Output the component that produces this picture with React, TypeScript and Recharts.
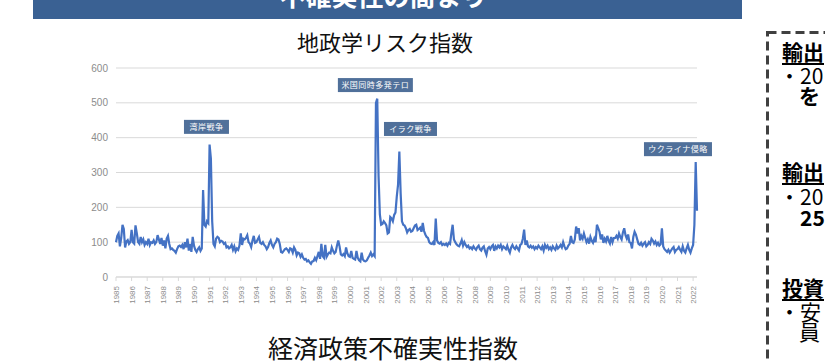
import { CartesianGrid, Line, LineChart, ReferenceDot, XAxis, YAxis } from "recharts";

// monthly geopolitical risk index (Jan 1985 - Apr 2022)
const gpr1985to1989 = [
  100, 118, 125, 88, 112, 150, 138, 85, 102, 106, 95, 100,
  135, 100, 96, 148, 126, 100, 95, 115, 100, 108, 92, 100,
  95, 110, 92, 100, 98, 105, 95, 100, 120, 108, 95, 112,
  90, 105, 82, 110, 118, 95, 80, 82, 78, 75, 70, 80,
  88, 90, 86, 92, 80, 100, 85, 110, 76, 95, 72, 115,
];
const gpr1990to1994 = [
  90, 78, 72, 80, 85, 75, 82, 250, 150, 145, 160, 155,
  380, 340, 160, 95, 88, 110, 115, 112, 100, 104, 102, 95,
  98, 85, 88, 82, 85, 92, 78, 88, 74, 82, 78, 90,
  125, 92, 110, 108, 112, 120, 100, 96, 86, 105, 118, 98,
  100, 108, 115, 98, 95, 100, 92, 88, 80, 86, 98, 105,
];
const gpr1995to1999 = [
  92, 85, 95, 100, 110, 108, 95, 72, 70, 75, 80, 82,
  78, 72, 82, 80, 70, 85, 78, 62, 70, 68, 58, 65,
  55, 50, 52, 45, 48, 42, 38, 45, 46, 55, 48, 60,
  72, 52, 95, 60, 55, 92, 58, 65, 70, 68, 85, 75,
  68, 72, 90, 105, 88, 65, 62, 66, 60, 85, 68, 60,
];
const gpr2000to2004 = [
  58, 75, 55, 52, 50, 75, 55, 48, 45, 70, 50, 46,
  45, 48, 55, 62, 70, 60, 65, 60, 500, 512, 290, 180,
  150, 152, 160, 155, 148, 125, 128, 172, 168, 160, 178, 185,
  230, 265, 360, 240, 160, 150, 148, 140, 128, 135, 138, 130,
  132, 140, 148, 150, 135, 138, 142, 130, 155, 132, 122, 115,
];
const gpr2005to2009 = [
  112, 100, 96, 95, 100, 92, 168, 105, 98, 96, 100, 92,
  95, 92, 96, 90, 98, 95, 125, 150, 108, 100, 94, 90,
  88, 96, 106, 90, 100, 92, 86, 90, 82, 85, 80, 88,
  82, 78, 86, 90, 80, 76, 84, 88, 74, 64, 82, 86,
  80, 88, 92, 75, 88, 82, 90, 85, 92, 80, 88, 84,
];
const gpr2010to2014 = [
  80, 90, 78, 70, 85, 92, 84, 80, 88, 82, 76, 92,
  95, 110, 136, 92, 105, 88, 85, 90, 84, 88, 80, 86,
  82, 90, 85, 80, 88, 76, 92, 84, 90, 80, 85, 78,
  88, 82, 78, 90, 82, 86, 92, 85, 100, 88, 80, 82,
  90, 95, 118, 100, 98, 108, 145, 125, 140, 105, 118, 110,
];
const gpr2015to2019 = [
  125, 112, 100, 108, 96, 115, 104, 98, 110, 100, 150, 140,
  130, 108, 122, 98, 110, 102, 118, 104, 96, 115, 100, 112,
  112, 118, 110, 125, 115, 108, 128, 140, 120, 110, 122, 100,
  98, 82, 115, 130, 122, 108, 95, 92, 98, 90, 96, 100,
  88, 92, 100, 95, 110, 105, 96, 102, 92, 98, 90, 94,
];
const gpr2020to2022 = [
  140, 88, 80, 76, 72, 78, 70, 76, 82, 86, 72, 78,
  80, 86, 78, 72, 88, 75, 70, 82, 92, 78, 70, 82,
  92, 150, 330, 190,
];

const yearTicks = Array.from({ length: 38 }, (_, i) => 1985 + i);
const valueTicks = [0, 100, 200, 300, 400, 500, 600];

const events = [
  { label: "湾岸戦争", t: 1990.8, v: 431, w: 45 },
  { label: "米国同時多発テロ", t: 2001.63, v: 551, w: 75 },
  { label: "イラク戦争", t: 2003.88, v: 425, w: 53 },
  { label: "ウクライナ侵略", t: 2021.03, v: 367, w: 68 },
];

const gpr = [
  ...gpr1985to1989,
  ...gpr1990to1994,
  ...gpr1995to1999,
  ...gpr2000to2004,
  ...gpr2005to2009,
  ...gpr2010to2014,
  ...gpr2015to2019,
  ...gpr2020to2022,
];
const data = gpr.map((v, i) => ({ t: 1985 + i / 12, gpr: v }));

const jp = '"Noto Sans CJK JP", "Noto Sans", sans-serif';

const YearTick = ({ x, y, payload }: any) => (
  <text
    transform={`translate(${x + 3},${y + 3}) rotate(-90)`}
    textAnchor="end"
    fontSize={8}
    fill="#8c8c8c"
    fontFamily="Liberation Sans, Arial, sans-serif"
  >
    {payload.value}
  </text>
);

const EventBox = (w: number, label: string) => (props: any) => {
  const { cx, cy } = props;
  return (
    <g>
      <rect x={cx - w / 2} y={cy - 7} width={w} height={14} fill="#50709a" />
      <text
        x={cx}
        y={cy + 3}
        textAnchor="middle"
        fontSize={8}
        fill="#ffffff"
        fontFamily={jp}
        letterSpacing={0.5}
      >
        {label}
      </text>
    </g>
  );
};

const line = (top: number, left: number, text: string, bold = false, under = false) => (
  <div
    style={{
      position: "absolute",
      top,
      left,
      fontSize: 21,
      lineHeight: "19px",
      fontWeight: bold ? 700 : 400,
      textDecoration: under ? "underline" : "none",
      textUnderlineOffset: 3,
      whiteSpace: "nowrap",
      color: "#000",
    }}
  >
    {text}
  </div>
);

export default function App() {
  return (
    <div
      style={{
        position: "fixed",
        left: 0,
        top: 0,
        width: 825,
        height: 362,
        overflow: "hidden",
        background: "#fff",
        fontFamily: jp,
      }}
    >
      <div
        style={{
          position: "absolute",
          left: 33,
          top: 0,
          width: 709,
          height: 19,
          background: "#3a6193",
          overflow: "hidden",
        }}
      >
        <div
          style={{
            position: "absolute",
            top: -18,
            width: "100%",
            textAlign: "center",
            fontSize: 26,
            lineHeight: "26px",
            fontWeight: 700,
            color: "#fff",
            marginLeft: -4,
          }}
        >
          不確実性の高まり
        </div>
      </div>

      <div
        style={{
          position: "absolute",
          top: 30,
          left: 285,
          width: 200,
          textAlign: "center",
          fontSize: 22,
          lineHeight: "22px",
          color: "#111",
        }}
      >
        地政学リスク指数
      </div>

      <div style={{ position: "absolute", left: 0, top: 0 }}>
        <LineChart
          width={825}
          height={362}
          data={data}
          margin={{ top: 68, right: 128, left: 86, bottom: 55 }}
        >
          <CartesianGrid vertical={false} stroke="#d9d9d9" />
          <XAxis
            dataKey="t"
            type="number"
            domain={[1985, 2022.25]}
            ticks={yearTicks}
            interval={0}
            axisLine={{ stroke: "#d9d9d9" }}
            tickLine={{ stroke: "#d9d9d9" }}
            tickSize={4}
            tick={<YearTick />}
            height={30}
          />
          <YAxis
            domain={[0, 600]}
            ticks={valueTicks}
            axisLine={false}
            tickLine={false}
            width={30}
            tick={{ fontSize: 10, fill: "#8c8c8c", fontFamily: "Liberation Sans, Arial, sans-serif" }}
          />
          <Line
            type="linear"
            dataKey="gpr"
            stroke="#4472c4"
            strokeWidth={2.2}
            dot={false}
            isAnimationActive={false}
          />
          {events.map((e) => (
            <ReferenceDot
              key={e.label}
              x={e.t}
              y={e.v}
              ifOverflow="visible"
              shape={EventBox(e.w, e.label)}
            />
          ))}
        </LineChart>
      </div>

      <div
        style={{
          position: "absolute",
          top: 335,
          left: 268,
          width: 250,
          textAlign: "center",
          fontSize: 25,
          lineHeight: "25px",
          color: "#111",
        }}
      >
        経済政策不確実性指数
      </div>

      <svg style={{ position: "absolute", left: 0, top: 0 }} width={825} height={362}>
        <rect
          x={767.5}
          y={32.5}
          width={120}
          height={400}
          fill="none"
          stroke="#404040"
          strokeWidth={3}
          strokeDasharray="9 5"
        />
      </svg>
      {line(42, 782, "輸出", true, true)}
      {line(66, 779, "・20")}
      {line(86, 799, "を", true)}
      {line(162, 782, "輸出", true, true)}
      {line(187, 779, "・20")}
      {line(208, 800, "25", true)}
      {line(278, 782, "投資", true, true)}
      {line(302, 779, "・安")}
      {line(322, 799, "員")}
    </div>
  );
}
